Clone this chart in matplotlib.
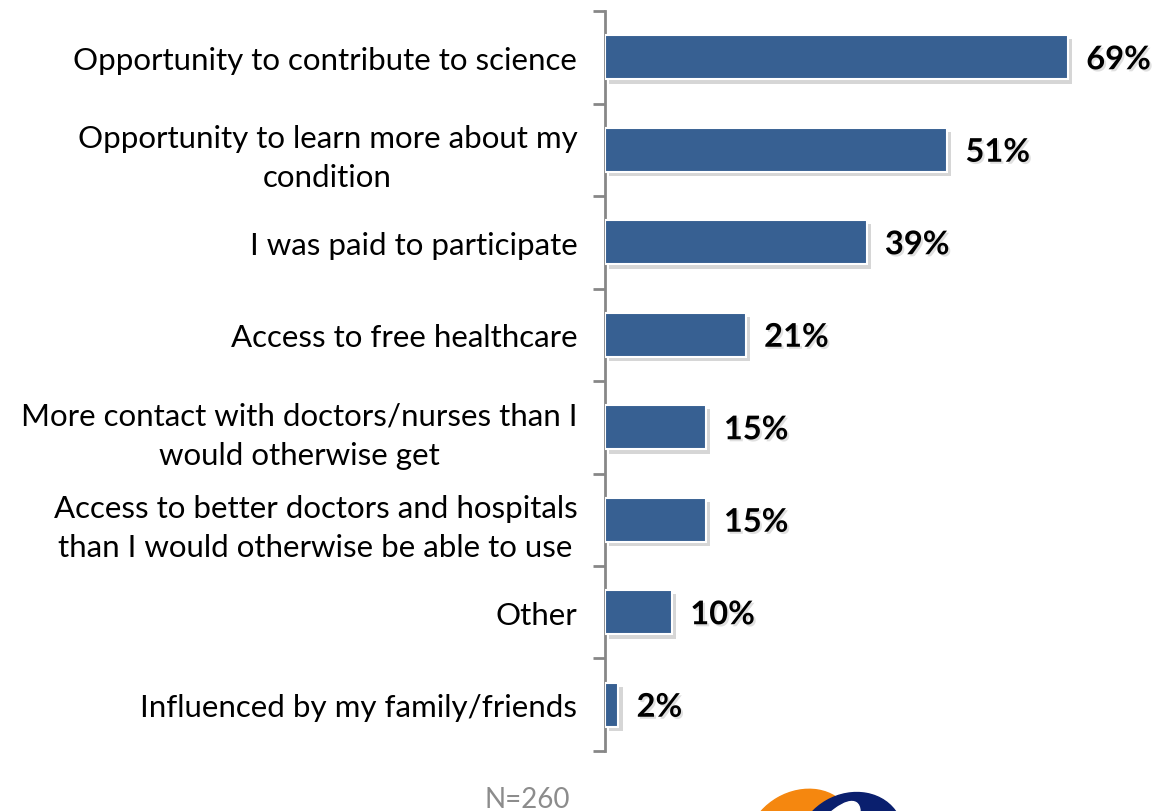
import matplotlib.pyplot as plt
import matplotlib.patheffects as pe
from matplotlib.patches import Ellipse
import numpy as np

plt.rcParams['font.family'] = ['Lato', 'DejaVu Sans']

reasons = [
    "Opportunity to contribute to science",
    "Opportunity to learn more about my\ncondition",
    "I was paid to participate",
    "Access to free healthcare",
    "More contact with doctors/nurses than I\nwould otherwise get",
    "Access to better doctors and hospitals\nthan I would otherwise be able to use",
    "Other",
    "Influenced by my family/friends",
]
shares = [69, 51, 39, 21, 15, 15, 10, 2]

bar_color = "#376092"
spine_color = "#878787"

fig = plt.figure(figsize=(11.73, 8.12), dpi=100)
ax = fig.add_axes([0.5158, 0.0739, 0.46, 0.9113])

y = np.arange(len(reasons))
shadow = [pe.SimplePatchShadow(offset=(3, -3), shadow_rgbFace="#7a7a7a", alpha=0.3), pe.Normal()]
bars = ax.barh(y, shares, height=0.48, color=bar_color, edgecolor="white",
               linewidth=1.5, path_effects=shadow, zorder=3)

for b, v in zip(bars, shares):
    ax.text(b.get_width() + 2.7, b.get_y() + b.get_height() / 2, f"{v}%",
            va="center_baseline", ha="left", fontsize=23.5, fontweight="bold", color="black",
            path_effects=[pe.withSimplePatchShadow(offset=(1.5, -1.5), alpha=0.12)])

ax.set_xlim(0, 80.4)
ax.set_ylim(len(reasons) - 0.5, -0.5)

# category boundaries carry the tick marks, centres carry the labels
ax.set_yticks(np.arange(-0.5, len(reasons)), labels=[])
ax.set_yticks(y, labels=reasons, minor=True)
ax.tick_params(axis="y", which="major", direction="out", length=9, width=2, color=spine_color)
ax.tick_params(axis="y", which="minor", length=0, pad=20, labelsize=22.5)
for lbl in ax.get_yticklabels(minor=True):
    lbl.set_multialignment("center")
    lbl.set_linespacing(1.47)

ax.set_xticks([])
for side in ["top", "right", "bottom"]:
    ax.spines[side].set_visible(False)
ax.spines["left"].set_color(spine_color)
ax.spines["left"].set_linewidth(2)

fig.text(527 / 1173, 1 - 800 / 812, "N=260", ha="center", va="center",
         fontsize=20, color="#8c8c8c")

# logo, cut off by the bottom edge
logo = fig.add_axes([0, 0, 1, 1], zorder=-1)
logo.set_xlim(0, 1173)
logo.set_ylim(812, 0)
logo.axis("off")
logo.add_patch(Ellipse((800, 838), 110, 90, angle=-30, color="#f5870f"))
logo.add_patch(Ellipse((850, 843), 110, 95, angle=-30, color="#0a1f6e"))
logo.add_patch(Ellipse((822, 853), 40, 120, angle=35, color="white"))

fig.savefig("out.png", dpi=100)
